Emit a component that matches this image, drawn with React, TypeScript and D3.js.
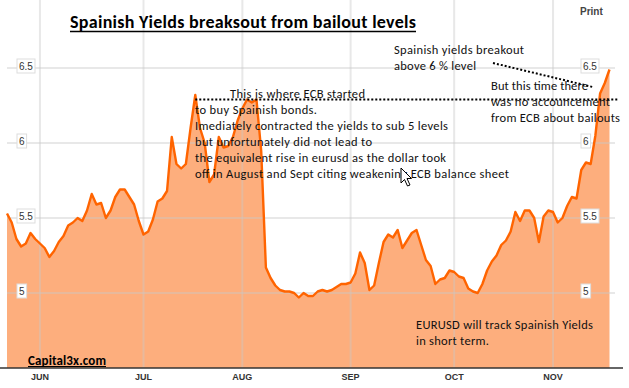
import * as React from "react";
import * as d3 from "d3";

// trading days (weekdays) covered by the chart
const firstDay = new Date(2011, 4, 23);
const lastDay = new Date(2011, 10, 18);
const tradingDays = d3.timeDay
  .range(firstDay, lastDay)
  .filter((d) => d.getDay() % 6 !== 0);

// Spanish 10y yield, one value per trading day
const yields = [
  5.53, 5.47, 5.36, 5.31, 5.33, 5.40, 5.36, 5.33, 5.30, 5.24,
  5.28, 5.34, 5.38, 5.45, 5.47, 5.50, 5.48, 5.55, 5.66, 5.59,
  5.60, 5.50, 5.55, 5.64, 5.69, 5.69, 5.64, 5.59, 5.48, 5.39,
  5.41, 5.49, 5.61, 5.63, 5.68, 6.04, 5.86, 5.83, 5.86, 6.10,
  6.32, 6.10, 6.00, 5.74, 5.79, 6.04, 5.97, 5.98, 6.04, 6.15,
  6.23, 6.29, 6.27, 6.29, 5.95, 5.17, 5.10, 5.05, 5.02, 5.01,
  5.01, 5.00, 4.97, 5.00, 4.98, 4.98, 5.01, 5.02, 5.01, 5.02,
  5.04, 5.06, 5.06, 5.07, 5.13, 5.27, 5.20, 5.02, 5.05, 5.20,
  5.34, 5.39, 5.37, 5.42, 5.30, 5.35, 5.40, 5.42, 5.32, 5.22,
  5.18, 5.06, 5.09, 5.10, 5.15, 5.14, 5.11, 5.10, 5.03, 5.01,
  5.00, 5.06, 5.15, 5.21, 5.25, 5.32, 5.35, 5.41, 5.54, 5.48,
  5.55, 5.55, 5.50, 5.34, 5.51, 5.55, 5.54, 5.47, 5.50, 5.58,
  5.64, 5.63, 5.82, 5.87, 5.86, 6.05, 6.33, 6.40, 6.49,
];

const yTicks = [5, 5.5, 6, 6.5];
const monthLabels = ["JUN", "JUL", "AUG", "SEP", "OCT", "NOV"];
const ecbLevel = 6.29;

const title = "Spainish Yields breaksout from bailout levels";
const ecbNote = [
  "This is where ECB started",
  "to buy Spainish bonds.",
  "Imediately contracted the yields to sub 5 levels",
  "but unfortunately did not lead to",
  "the equivalent rise in eurusd as the dollar took",
  "off in August and Sept citing weakening ECB balance sheet",
];
const ecbNoteWidths = [135, 122, 253, 177, 251, 314];
const breakoutNote = ["Spainish yields breakout", "above 6 % level"];
const breakoutWidths = [130, 82];
const noBailoutNote = ["But this time there", "was no accouncement", "from ECB about bailouts"];
const noBailoutWidths = [97, 119, 129];
const trackNote = ["EURUSD will track Spainish Yields", "in short term."];
const trackWidths = [177, 73];

const W = 629;
const H = 388;
const noteFont = "Carlito, Calibri, Lato, sans-serif";
const axisFont = "Arial, 'Liberation Sans', sans-serif";

export default function App() {
  const key = d3.timeFormat("%Y-%m-%d");
  const data = tradingDays.map((d, i) => ({ date: d, value: yields[i] }));

  const x = d3.scalePoint<string>().domain(data.map((d) => key(d.date))).range([7, 609.5]);
  const y = d3.scaleLinear().domain([4.5, 6.8]).range([368, 23]);

  const area = d3
    .area<{ date: Date; value: number }>()
    .x((d) => x(key(d.date)) as number)
    .y0(y(4.5))
    .y1((d) => y(d.value));
  const line = d3
    .line<{ date: Date; value: number }>()
    .x((d) => x(key(d.date)) as number)
    .y((d) => y(d.value));

  // first trading day of each month
  const monthStarts = d3.timeMonth
    .range(new Date(2011, 5, 1), new Date(2011, 10, 2))
    .map((m) => data.find((d) => d.date >= m)!.date);

  const lastIdx = data.length - 1;
  const ecbStart = x(key(data[40].date)) as number;
  const tipX = x(key(data[lastIdx - 1].date)) as number;

  const tickLabel = (v: number) => d3.format("")(v);
  const boxW = (s: string) => s.replace(".", "").length * 5.6 + (s.includes(".") ? 2.8 : 0) + 4;

  return (
    <svg width={W} height={H} style={{ position: "absolute", left: 0, top: 0, background: "#fff" }}>
      <path d={area(data) ?? ""} fill="#fdae7d" />

      {/* gridlines */}
      <g stroke="#c8c8c8" strokeOpacity={0.42} strokeWidth={2}>
        {yTicks.map((t) => (
          <line key={t} x1={7} x2={615} y1={y(t)} y2={y(t)} />
        ))}
        {monthStarts.map((d) => (
          <line key={+d} x1={x(key(d))} x2={x(key(d))} y1={0} y2={y(4.5)} />
        ))}
      </g>

      <path d={line(data) ?? ""} fill="none" stroke="#ff6400" strokeWidth={2.4} strokeLinejoin="round" />

      {/* axis */}
      <line x1={0} x2={623} y1={y(4.5)} y2={y(4.5)} stroke="#333" strokeWidth={1.4} />
      {monthStarts.map((d, i) => (
        <text key={+d} x={x(key(d))} y={380} textAnchor="middle" fontFamily={axisFont}
          fontSize={9} fontWeight="bold" fill="#333">
          {monthLabels[i]}
        </text>
      ))}

      {/* y labels, both sides */}
      {yTicks.map((t) =>
        [17, 581].map((lx) => (
          <g key={`${t}-${lx}`}>
            <rect x={lx} y={y(t) - 9} width={boxW(tickLabel(t))} height={14} fill="#fff" stroke="#ddd" />
            <text x={lx + 2} y={y(t) + 1.5} fontFamily={axisFont} fontSize={10} fill="#333">
              {tickLabel(t)}
            </text>
          </g>
        ))
      )}

      {/* title */}
      <text x={70} y={27.5} fontFamily={noteFont} fontSize={18} fontWeight="bold" textLength={346} fill="#000">
        {title}
      </text>
      <line x1={70} x2={416} y1={31.5} y2={31.5} stroke="#000" strokeWidth={1.4} />

      <text x={580} y={15} fontFamily={axisFont} fontSize={10} fontWeight="bold" fill="#444">Print</text>

      {/* ECB dotted levels */}
      <line x1={ecbStart} x2={619} y1={y(ecbLevel)} y2={y(ecbLevel)} stroke="#000" strokeWidth={2} strokeDasharray="2 2" />
      <line x1={493} y1={63} x2={tipX - 12} y2={87} stroke="#000" strokeWidth={2} strokeDasharray="2 2" />

      <g fontFamily={noteFont} fontSize={12.5} fill="#111">
        {ecbNote.map((s, i) => (
          <text key={s} x={i === 0 ? 230 : 195} y={97.5 + i * 16} textLength={ecbNoteWidths[i]}>{s}</text>
        ))}
        {breakoutNote.map((s, i) => (
          <text key={s} x={394} y={54 + i * 15.5} textLength={breakoutWidths[i]}>{s}</text>
        ))}
        {noBailoutNote.map((s, i) => (
          <text key={s} x={491} y={89.5 + i * 16} textLength={noBailoutWidths[i]}>{s}</text>
        ))}
        {trackNote.map((s, i) => (
          <text key={s} x={416} y={329 + i * 16} textLength={trackWidths[i]}>{s}</text>
        ))}
      </g>

      <text x={28} y={364.5} fontFamily={noteFont} fontSize={13} fontWeight="bold" textLength={78} fill="#000">
        Capital3x.com
      </text>
      <line x1={28} x2={106} y1={366.5} y2={366.5} stroke="#000" strokeWidth={1.2} />

      {/* mouse pointer */}
      <path d="M0,0 L0,15 L3.5,11.5 L6.5,18 L9,17 L6,10.5 L10.5,10.5 Z"
        transform="translate(401,168)" fill="#fff" stroke="#000" strokeWidth={1} />
    </svg>
  );
}
